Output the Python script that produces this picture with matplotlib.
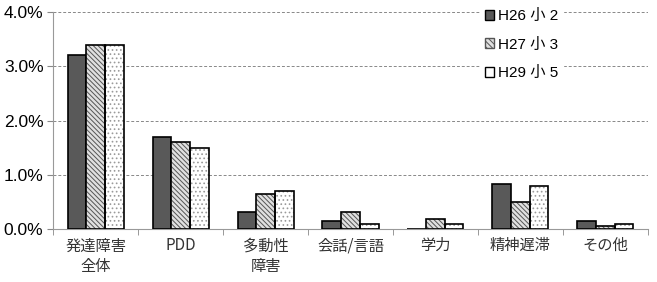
import matplotlib.pyplot as plt
import numpy as np
from matplotlib.patches import Patch

plt.rcParams['font.family'] = ['Noto Sans CJK JP', 'DejaVu Sans']
plt.rcParams['hatch.linewidth'] = 0.7

categories = ['発達障害\n全体', 'PDD', '多動性\n障害', '会話/言語', '学力', '精神遅滞', 'その他']
series_names = ['H26 小 2', 'H27 小 3', 'H29 小 5']
h26 = [3.2, 1.7, 0.32, 0.15, 0.0, 0.83, 0.15]
h27 = [3.4, 1.6, 0.65, 0.32, 0.18, 0.50, 0.06]
h29 = [3.4, 1.5, 0.70, 0.10, 0.10, 0.80, 0.10]

fig = plt.figure(figsize=(6.57, 2.82), dpi=100)
ax = fig.add_axes([0.081, 0.188, 0.905, 0.769])

x = np.arange(len(categories))
w = 0.22

# series 1: solid dark
ax.bar(x - w, h26, w, color='#595959', edgecolor='black', linewidth=1.2, zorder=3)

# series 2: diagonal hatch (hatch layer then black outline)
ax.bar(x, h27, w, color='#e0e0e0', edgecolor='#555555', hatch='\\\\\\\\\\\\\\', linewidth=0, zorder=3)
ax.bar(x, h27, w, color='none', edgecolor='black', linewidth=1.2, zorder=4)

# series 3: dotted white
ax.bar(x + w, h29, w, color='white', edgecolor='#9a9a9a', hatch='....', linewidth=0, zorder=3)
ax.bar(x + w, h29, w, color='none', edgecolor='black', linewidth=1.2, zorder=4)

ax.set_xlim(-0.5, len(categories) - 0.5)
ax.set_ylim(0, 4.0)
ax.set_yticks([0, 1, 2, 3, 4])
ax.set_yticklabels(['0.0%', '1.0%', '2.0%', '3.0%', '4.0%'], fontsize=12.5, family=['Liberation Sans', 'DejaVu Sans'])
ax.yaxis.grid(True, linestyle=(0, (3, 2)), color='#888888', linewidth=0.7, zorder=0)

ax.set_xticks(x)
ax.set_xticklabels(categories, fontsize=11, color='#333333', linespacing=1.3)
ax.set_xticks(np.arange(-0.5, len(categories)), minor=True)
ax.tick_params(axis='x', which='major', length=0, pad=6)
ax.tick_params(axis='x', which='minor', length=4, color='#888888')
ax.tick_params(axis='y', length=4, color='#888888', pad=3)

for s in ['top', 'right']:
    ax.spines[s].set_visible(False)
ax.spines['left'].set_color('#999999')
ax.spines['bottom'].set_color('#999999')

handles = [
    Patch(facecolor='#595959', edgecolor='black'),
    Patch(facecolor='#e0e0e0', edgecolor='#555555', hatch='\\\\\\\\\\\\'),
    Patch(facecolor='white', edgecolor='black'),
]
leg = ax.legend(handles, series_names, loc='upper left', bbox_to_anchor=(0.705, 1.07),
                frameon=True, fancybox=False, framealpha=1, edgecolor='white',
                handlelength=0.6, handleheight=0.6, handletextpad=0.3,
                labelspacing=0.95, borderpad=0.3,
                prop={'family': ['Liberation Sans', 'Noto Sans CJK JP'], 'size': 11})
leg.set_zorder(5)

fig.savefig('out.png', dpi=100)
